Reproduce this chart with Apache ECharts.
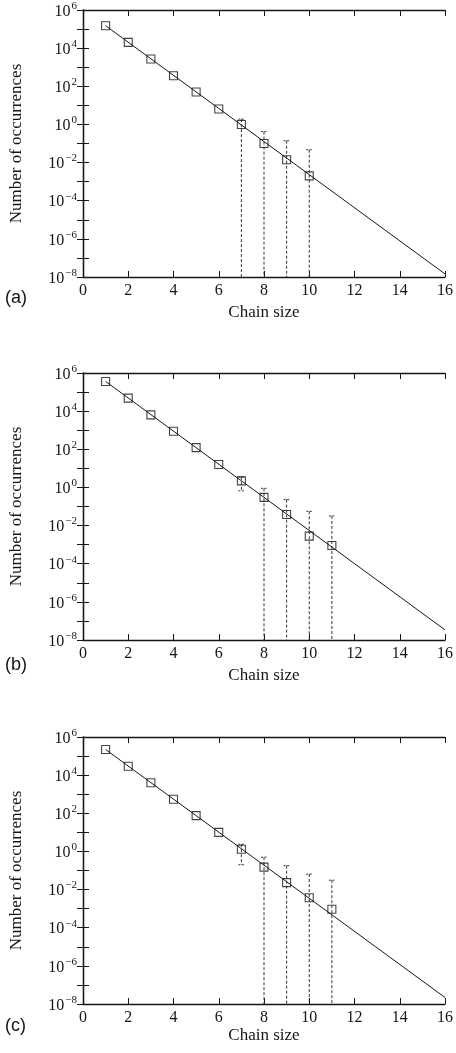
<!DOCTYPE html>
<html><head><meta charset="utf-8">
<script src="https://cdn.jsdelivr.net/npm/echarts@6/dist/echarts.min.js"></script>
<style>html,body{margin:0;padding:0;background:#fff}#c{width:456px;height:1053px}</style>
</head><body><div id="c"></div>
<script>
// ---- Data ----
const panelLabels = ['(a)', '(b)', '(c)'];
const xAxisTitle = 'Chain size';
const yAxisTitle = 'Number of occurrences';

const chainA = [1, 2, 3, 4, 5, 6, 7, 8, 9, 10];
const countA = [1.5e5, 2.0e4, 2.7e3, 360, 50, 6.5, 1.0, 0.1, 0.014, 0.002];
const errXA = [7, 8, 9, 10];
const errHiA = [1.9, 0.42, 0.14, 0.047];
const errLoA = [null, null, null, null];
const fitA = [[1, 1.5e5], [16, 1.45e-8]];

const chainB = [1, 2, 3, 4, 5, 6, 7, 8, 9, 10, 11];
const countB = [3.6e5, 4.8e4, 6.4e3, 890, 122, 16, 2.2, 0.3, 0.038, 0.0028, 0.0009];
const errXB = [7, 8, 9, 10, 11];
const errHiB = [3.6, 0.9, 0.23, 0.056, 0.032];
const errLoB = [0.66, null, null, null, null];
const fitB = [[1, 3.6e5], [16, 3.4e-8]];

const chainC = [1, 2, 3, 4, 5, 6, 7, 8, 9, 10, 11];
const countC = [2.2e5, 2.9e4, 4.0e3, 540, 75, 10, 1.3, 0.15, 0.023, 0.0037, 0.00093];
const errXC = [7, 8, 9, 10, 11];
const errHiC = [2.4, 0.5, 0.18, 0.065, 0.031];
const errLoC = [0.2, null, null, null, null];
const fitC = [[1, 2.2e5], [16, 2.2e-8]];

const xMin = 0, xMax = 16, xStep = 2;
const yMin = 1e-8, yMax = 1e6;

// ---- Chart ----
const SERIF = '"Liberation Serif", "DejaVu Serif", serif';
const INK = '#151515';
const chart = echarts.init(document.getElementById('c'), null, {renderer: 'canvas'});

const panels = [
  {chain: chainA, count: countA, ex: errXA, eh: errHiA, el: errLoA, fit: fitA},
  {chain: chainB, count: countB, ex: errXB, eh: errHiB, el: errLoB, fit: fitB},
  {chain: chainC, count: countC, ex: errXC, eh: errHiC, el: errLoC, fit: fitC}
];
const gridTops = [10, 373, 737];
const gridH = 267;
const xNameGaps = [27, 27, 21];
const labelY = [300, 667, 1028];

function supLabel(v) {
  const e = Math.round(Math.log10(v));
  if (e % 2 !== 0) return '';
  const s = e < 0 ? '\u2212' + (-e) : String(e);
  return '{b|10}{s|' + s + '}';
}

const grid = [], xAxis = [], yAxis = [], series = [];
panels.forEach((p, i) => {
  grid.push({left: 81, right: 9, top: gridTops[i], height: gridH});
  const tick = {show: true, inside: true, length: 6, lineStyle: {color: INK, width: 1}};
  const line = {show: true, lineStyle: {color: INK, width: 1.3}};
  xAxis.push({
    gridIndex: i, type: 'value', min: xMin, max: xMax, interval: xStep,
    axisLine: line, axisTick: tick, splitLine: {show: false},
    axisLabel: {margin: 6, fontFamily: SERIF, fontSize: 16, color: INK},
    name: xAxisTitle, nameLocation: 'middle', nameGap: xNameGaps[i],
    nameTextStyle: {fontFamily: SERIF, fontSize: 17, color: INK}
  });
  xAxis.push({
    gridIndex: i, type: 'value', position: 'top', min: xMin, max: xMax, interval: xStep,
    axisLine: line, axisTick: tick, splitLine: {show: false}, axisLabel: {show: false}
  });
  yAxis.push({
    gridIndex: i, type: 'log', logBase: 10, min: yMin, max: yMax, interval: 1, splitNumber: 14,
    axisLine: line, axisTick: tick, splitLine: {show: false}, minorTick: {show: false},
    axisLabel: {
      margin: 6, formatter: supLabel, color: INK,
      rich: {
        b: {fontFamily: SERIF, fontSize: 16, color: INK, verticalAlign: 'bottom'},
        s: {fontFamily: SERIF, fontSize: 11, color: INK, verticalAlign: 'bottom', padding: [0, 0, 8, 1]}
      }
    },
    name: yAxisTitle, nameLocation: 'middle', nameGap: 58, nameRotate: 90,
    nameTextStyle: {fontFamily: SERIF, fontSize: 17, color: INK}
  });
  yAxis.push({
    gridIndex: i, type: 'log', logBase: 10, min: yMin, max: yMax, interval: 1, splitNumber: 14, position: 'right',
    axisLine: line, axisTick: tick, splitLine: {show: false}, axisLabel: {show: false}
  });
  const xi = i * 2, yi = i * 2;
  // error bars
  series.push({
    type: 'custom', xAxisIndex: xi, yAxisIndex: yi, z: 1,
    encode: {x: 0, y: 1},
    data: p.ex.map((x, k) => [x, p.eh[k], p.el[k] == null ? yMin : p.el[k], p.el[k] == null ? 0 : 1]),
    renderItem: function (params, api) {
      const x = api.value(0), hi = api.value(1), lo = api.value(2), cap = api.value(3);
      const a = api.coord([x, hi]), b = api.coord([x, lo]);
      const st = {stroke: '#333', lineWidth: 1, lineDash: [3, 2], fill: null};
      const w = 3;
      const ch = [
        {type: 'line', shape: {x1: a[0], y1: a[1], x2: b[0], y2: b[1]}, style: st},
        {type: 'line', shape: {x1: a[0] - w, y1: a[1], x2: a[0] + w, y2: a[1]}, style: {stroke: '#333', lineWidth: 1, lineDash: [2, 1.5]}}
      ];
      if (cap) ch.push({type: 'line', shape: {x1: b[0] - w, y1: b[1], x2: b[0] + w, y2: b[1]}, style: {stroke: '#333', lineWidth: 1, lineDash: [2, 1.5]}});
      return {type: 'group', children: ch};
    },
    silent: true
  });
  // fitted line
  series.push({
    type: 'line', xAxisIndex: xi, yAxisIndex: yi, z: 2, data: p.fit,
    showSymbol: false, symbol: 'none', lineStyle: {color: INK, width: 1}, silent: true
  });
  // measured points
  series.push({
    type: 'scatter', xAxisIndex: xi, yAxisIndex: yi, z: 3,
    data: p.chain.map((c, k) => [c, p.count[k]]),
    symbol: 'rect', symbolSize: 8,
    itemStyle: {color: 'rgba(0,0,0,0)', borderColor: INK, borderWidth: 1.1}, silent: true
  });
});

const graphic = panelLabels.map((t, i) => ({
  type: 'text', left: 5, top: labelY[i] - 11,
  style: {text: t, font: '18px "Liberation Sans", Arial, sans-serif', fill: INK}
}));

chart.setOption({animation: false, backgroundColor: '#fff', grid, xAxis, yAxis, series, graphic});
</script></body></html>
